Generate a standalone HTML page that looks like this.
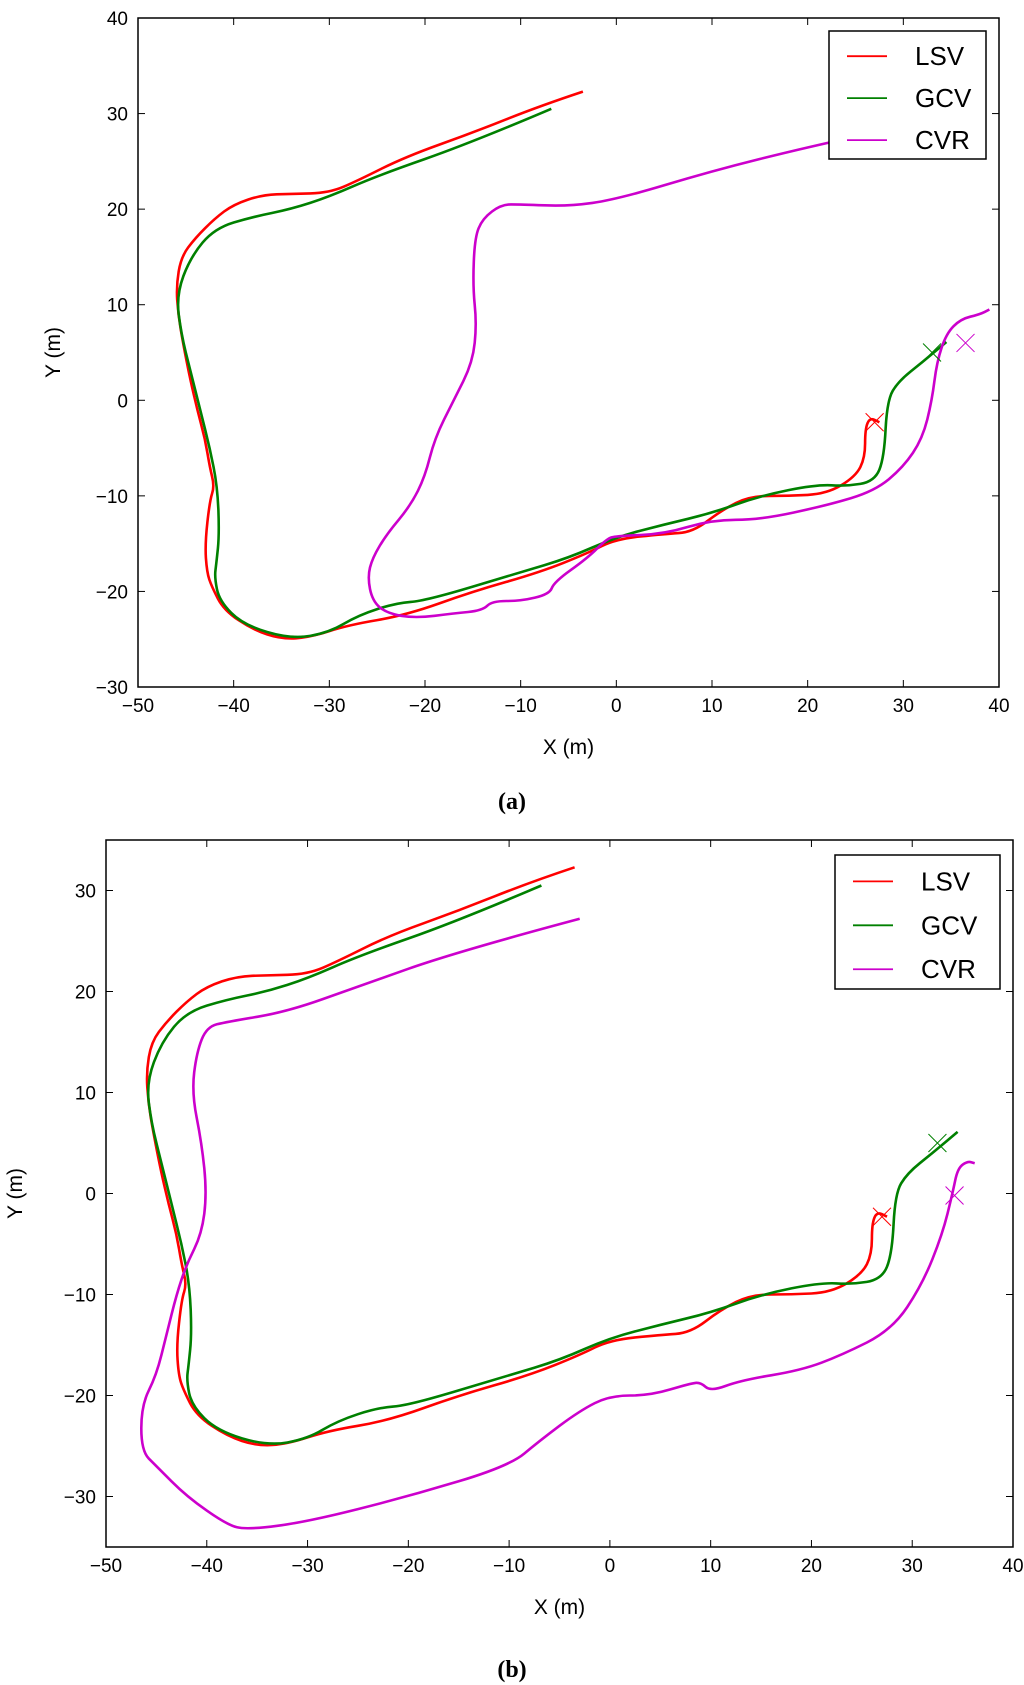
<!DOCTYPE html>
<html><head><meta charset="utf-8"><style>
body{margin:0;background:#fff;width:1024px;height:1685px;overflow:hidden}
svg{display:block}
text{font-family:"Liberation Sans",sans-serif}
</style></head><body>
<svg id="svg" width="1024" height="1685" viewBox="0 0 1024 1685">
<g id="pa"></g>
<g id="pb"></g>
<text x="512" y="809" text-anchor="middle" font-size="24" font-weight="bold" style="font-family:'Liberation Serif',serif">(a)</text>
<text x="512" y="1677" text-anchor="middle" font-size="24" font-weight="bold" style="font-family:'Liberation Serif',serif">(b)</text>
</svg>
<script>
const lsvX=[-3.5,-8,-15,-22,-27,-30,-34,-37,-40,-42,-44,-45.5,-46,-45.8,-45.3,-44.5,-43.8,-43,-42.5,-42,-42.5,-43,-42.8,-42.3,-41,-38,-35,-32,-28,-22,-15,-8,-3,0,5,8,11,14,18,22,25,26,26,26.5,27.5];
const lsvY=[32.3,30.8,28,25.5,23,21.7,21.6,21.5,20.5,19,17,15,12,9,6,2,-1,-4,-7,-9,-10.5,-15,-18,-19.5,-22,-24,-25,-24.8,-23.5,-22.5,-20,-18,-16,-14.5,-14,-13.8,-11.5,-10,-10,-9.8,-8,-6,-3,-1.8,-2.3];
const gcvX=[-6.8,-15,-25,-30,-34,-38,-42,-44.5,-46,-45.5,-44.5,-43.5,-42.5,-41.7,-41.5,-41.8,-42,-41.5,-39,-34,-30,-27,-23,-20,-10,-5,0,5,10,15,21,24,27,28,28.3,29.5,32,34.5];
const gcvY=[30.5,27,23.5,21.3,20,19.2,18,15,11,7,3,-1,-5,-9,-14,-17,-18.5,-21,-23.5,-25,-24.3,-22.5,-21.2,-21,-18,-16.5,-14.3,-13,-11.8,-10,-8.8,-9,-8.5,-6,0,2,4,6.1];
const cvrAX=[26,20,10,0,-5,-10,-12,-14,-14.8,-15,-14.6,-15,-17,-19,-20,-21.5,-24,-25.5,-26,-25.5,-24,-21,-17,-14,-13,-10,-7,-6.5,-3,-1,0,5,10,15,22,27,30,32,33,33.5,34.5,36,38,39];
const cvrAY=[27.8,26.5,24,21,20.3,20.5,20.5,19,17,12,8,4,0,-4,-8,-11,-14,-16.5,-18.5,-21,-22.3,-22.8,-22.3,-22,-21,-21,-20.3,-19,-16.5,-14.5,-14.2,-14,-12.5,-12.5,-11,-9.5,-7,-4,0,4,7,8.5,9,9.5];
const cvrBX=[-3,-15,-25,-32,-38,-40,-41,-41.5,-40.5,-40,-40.5,-42,-43,-44,-45,-46.5,-46.5,-45,-42,-38,-36,-30,-20,-10,-7,-3,0,4,8,9,10,13,19,23,28,31,33,34,34.5,35.5,36.2];
const cvrBY=[27.2,24,20.5,18,17,16.5,14,10,5,0,-4,-7,-10,-14,-18,-21,-25.5,-27,-30,-32.8,-33.3,-32.5,-30,-27,-24.5,-21.5,-20,-20,-18.8,-18.7,-19.6,-18.5,-17.5,-16,-13.5,-9,-4,0,2.5,3.2,3.0];
const markA=[[27,-2.3,'#ff0000'],[33,5,'#008000'],[36.5,6,'#cc00cc']];
const markB=[[27,-2.3,'#ff0000'],[32.5,5,'#008000'],[34.2,-0.2,'#cc00cc']];
const xTicks=[-50,-40,-30,-20,-10,0,10,20,30,40];
const yTicksA=[-30,-20,-10,0,10,20,30,40];
const yTicksB=[-30,-20,-10,0,10,20,30];
const NS='http://www.w3.org/2000/svg';
function mk(p,t,a){const e=document.createElementNS(NS,t);for(const k in a)e.setAttribute(k,a[k]);p.appendChild(e);return e;}
function smooth(P){
  let d='M'+P[0][0].toFixed(1)+','+P[0][1].toFixed(1);
  for(let i=1;i<P.length-1;i++){
    const mx=(P[i][0]+P[i+1][0])/2,my=(P[i][1]+P[i+1][1])/2;
    d+=' Q'+P[i][0].toFixed(1)+','+P[i][1].toFixed(1)+' '+mx.toFixed(1)+','+my.toFixed(1);
  }
  const l=P[P.length-1];d+=' L'+l[0].toFixed(1)+','+l[1].toFixed(1);
  return d;
}
function panel(g,L,R,T,B,x0,x1,y0,y1,yt,series,marks,leg,ylabX){
  const sx=v=>L+(v-x0)/(x1-x0)*(R-L), sy=v=>B-(v-y0)/(y1-y0)*(B-T);
  const cp='c'+L+T;
  const d=mk(g,'clipPath',{id:cp});mk(d,'rect',{x:L,y:T,width:R-L,height:B-T});
  series.forEach(s=>{
    const P=s[0].map((v,i)=>[sx(v),sy(s[1][i])]);
    const pl=mk(g,'path',{d:smooth(P),fill:'none',stroke:s[2],'stroke-width':2.6,'stroke-linejoin':'round','clip-path':'url(#'+cp+')'});
    
    
  });
  marks.forEach(m=>{const x=sx(m[0]),y=sy(m[1]);
    const p=mk(g,'path',{d:`M${x-9},${y-9}L${x+9},${y+9}M${x-9},${y+9}L${x+9},${y-9}`,stroke:m[2],'stroke-width':1,fill:'none'});
    
    
  });
  const fr=mk(g,'rect',{x:L,y:T,width:R-L,height:B-T,fill:'none',stroke:'#000','stroke-width':1.5});
  
  
  xTicks.forEach(v=>{const x=sx(v);
    mk(g,'line',{x1:x,x2:x,y1:B,y2:B-7,stroke:'#000'});mk(g,'line',{x1:x,x2:x,y1:T,y2:T+7,stroke:'#000'});
    const t=mk(g,'text',{x:x,y:B+25,'text-anchor':'middle','font-size':19});t.textContent=(v<0?'\u2212'+(-v):v);
    
    
  });
  yt.forEach(v=>{const y=sy(v);
    mk(g,'line',{x1:L,x2:L+7,y1:y,y2:y,stroke:'#000'});mk(g,'line',{x1:R,x2:R-7,y1:y,y2:y,stroke:'#000'});
    const t=mk(g,'text',{x:L-10,y:y+7,'text-anchor':'end','font-size':19});t.textContent=(v<0?'\u2212'+(-v):v);
    
    
  });
  const xl=mk(g,'text',{x:(L+R)/2,y:B+67,'text-anchor':'middle','font-size':21});xl.textContent='X (m)';
  
  
  const yc=(T+B)/2;
  const yl=mk(g,'text',{x:ylabX,y:yc,'text-anchor':'middle','font-size':21,transform:`rotate(-90 ${ylabX} ${yc})`});yl.textContent='Y (m)';
  
  
  const lg=mk(g,'g',{});
  
  
  mk(lg,'rect',{x:leg[0],y:leg[1],width:leg[2],height:leg[3],fill:'#fff',stroke:'#000','stroke-width':1.5});
  const rh=leg[3]/3.05;
  series.forEach((s,i)=>{const y=leg[1]+rh*(i+0.6);
    mk(lg,'line',{x1:leg[0]+18,x2:leg[0]+58,y1:y,y2:y,stroke:s[2],'stroke-width':1.8});
    const t=mk(lg,'text',{x:leg[0]+86,y:y+9,'font-size':26});t.textContent=s[3].toUpperCase();
    
    
  });
}
panel(document.getElementById('pa'),138,999,18,687,-50,40,-30,40,yTicksA,
  [[lsvX,lsvY,'#ff0000','lsv'],[gcvX,gcvY,'#008000','gcv'],[cvrAX,cvrAY,'#cc00cc','cvr']],markA,[829,31,157,128],60);
panel(document.getElementById('pb'),106,1013,840,1547,-50,40,-35,35,yTicksB,
  [[lsvX,lsvY,'#ff0000','lsv'],[gcvX,gcvY,'#008000','gcv'],[cvrBX,cvrBY,'#cc00cc','cvr']],markB,[835,855,165,134],22);
</script>
</body></html>
